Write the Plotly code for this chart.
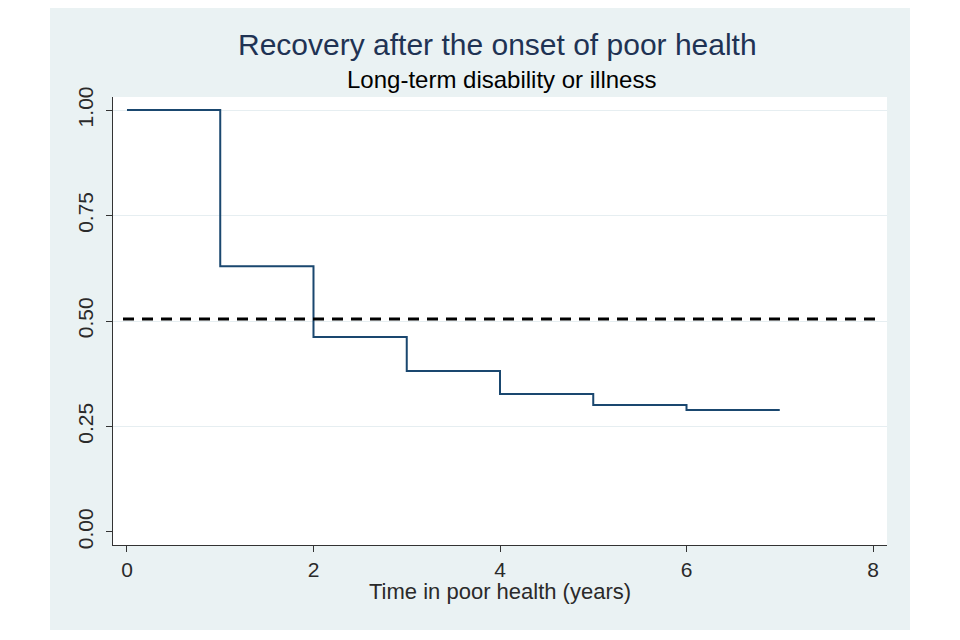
import plotly.graph_objects as go

# Data (Kaplan-Meier style step function)
years = [0, 1, 2, 3, 4, 5, 6, 7]
survival = [1.0, 0.63, 0.462, 0.3815, 0.327, 0.301, 0.289, 0.289]
median_line = 0.505
x_ticks = [0, 2, 4, 6, 8]
y_ticks = [0.0, 0.25, 0.5, 0.75, 1.0]
y_tick_labels = ["0.00", "0.25", "0.50", "0.75", "1.00"]
y_grid = [0.25, 0.5, 0.75, 1.0]

BG = "#eaf2f3"
NAVY = "#1a476f"
FONT = "Liberation Sans, Arial, sans-serif"

OFF = 8  # page offset of the figure
W, H = 960 - OFF, 640 - OFF
# plot area in page pixels: 113..887 x, 97..545 y
ml, mt = 113 - OFF, 97 - OFF
mr, mb = W - (887 - OFF), H - (545 - OFF)
pw, ph = W - ml - mr, H - mt - mb

def px_x(p):
    return (p - OFF - ml) / pw

def px_y(p):
    return (H - mb - (p - OFF)) / ph

fig = go.Figure()
fig.add_trace(go.Scatter(
    x=years, y=survival, mode="lines", line_shape="hv",
    line=dict(color=NAVY, width=2), showlegend=False, hoverinfo="skip"))

shapes = [
    dict(type="rect", xref="paper", yref="paper", layer="below",
         x0=px_x(50), x1=px_x(910), y0=px_y(630), y1=px_y(5),
         fillcolor=BG, line=dict(width=0)),
    dict(type="rect", xref="paper", yref="paper", layer="below",
         x0=0, x1=1, y0=0, y1=1, fillcolor="white", line=dict(width=0)),
    dict(type="line", xref="paper", yref="y", x0=px_x(123), x1=px_x(883),
         y0=median_line, y1=median_line,
         line=dict(color="black", width=3, dash="11px,8px")),
]

fig.update_layout(
    width=W, height=H,
    margin=dict(l=ml, r=mr, t=mt, b=mb),
    paper_bgcolor="white", plot_bgcolor="white",
    font=dict(family=FONT, color="#2a2a2a", size=21),
    shapes=shapes,
    annotations=[
        dict(text="Recovery after the onset of poor health", xref="paper", yref="paper",
             x=px_x(497), y=px_y(45), xanchor="center", yanchor="middle", showarrow=False,
             font=dict(family=FONT, size=30, color="#1f3354")),
        dict(text="Long-term disability or illness", xref="paper", yref="paper",
             x=px_x(501), y=px_y(79), xanchor="center", yanchor="middle", showarrow=False,
             font=dict(family=FONT, size=24, color="black")),
        dict(text="Time in poor health (years)", xref="paper", yref="paper",
             x=px_x(500), y=px_y(591), xanchor="center", yanchor="middle", showarrow=False,
             font=dict(family=FONT, size=22, color="#2a2a2a")),
    ],
)

fig.update_xaxes(
    range=[-0.15, 8.15], tickvals=x_ticks, showgrid=False, zeroline=False,
    showline=True, linecolor="#333333", linewidth=1.3,
    ticks="outside", ticklen=6, tickcolor="#333333", tickwidth=1.3,
    tickfont=dict(size=21, color="#2a2a2a"))
fig.update_yaxes(
    range=[-0.031, 1.031], tickvals=y_ticks, ticktext=y_tick_labels, tickangle=-90,
    showgrid=False, zeroline=False,
    showline=True, linecolor="#333333", linewidth=1.3,
    ticks="outside", ticklen=6, tickcolor="#333333", tickwidth=1.3,
    ticklabelstandoff=4,
    tickfont=dict(size=21, color="#2a2a2a"),
    minor=dict(tickvals=y_grid, showgrid=True, gridcolor="#e6eef1", gridwidth=1.3, ticklen=0))

fig.write_html("out.html")
